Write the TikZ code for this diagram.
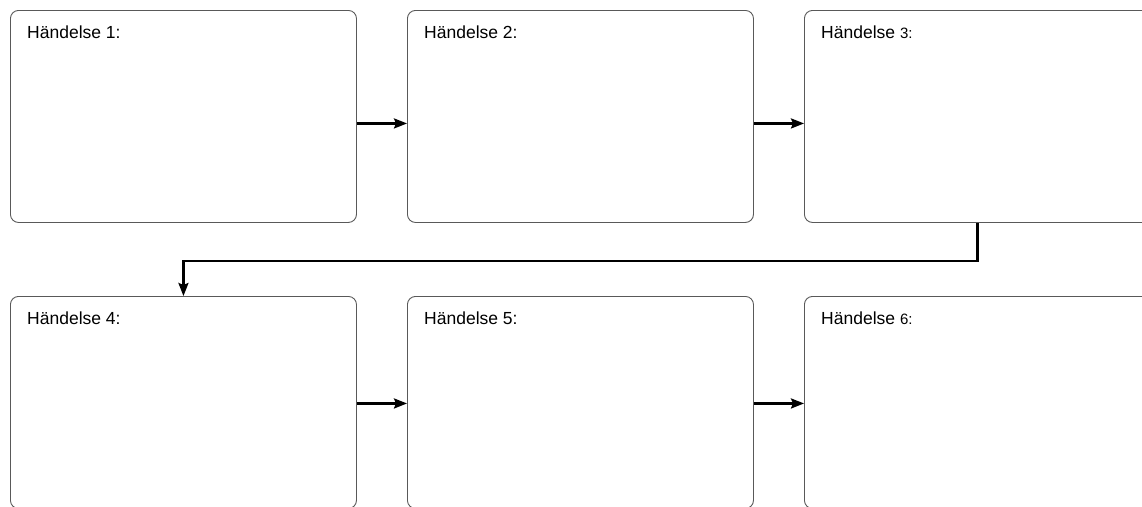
\documentclass[tikz,border=0pt]{standalone}
\usepackage{fontspec}
\setmainfont{Liberation Sans}
\usetikzlibrary{arrows.meta}
\begin{document}
\begin{tikzpicture}[x=1pt,y=-1pt,
  eventbox/.style={draw=black!65, line width=0.9pt, rounded corners=8pt,
    minimum width=346pt, minimum height=212pt, inner sep=0pt, anchor=north west},
  lbl/.style={anchor=base west, inner sep=0pt, font=\fontsize{17.5}{20}\selectfont},
  arr/.style={draw=black, line width=2.4pt, -{Stealth[length=13pt,width=10pt,inset=2pt]}}
]
\useasboundingbox (0,0) rectangle (1142,506);
\clip (0,0) rectangle (1142,506);
\node[eventbox] (b1) at (10,10) {};
\node[eventbox] (b2) at (407,10) {};
\node[eventbox] (b3) at (804,10) {};
\node[eventbox] (b4) at (10,296) {};
\node[eventbox] (b5) at (407,296) {};
\node[eventbox] (b6) at (804,296) {};
\node[lbl] (t1) at (27,38) {Händelse 1:};
\node[lbl] (t2) at (424,38) {Händelse 2:};
\node[lbl] (t3) at (821,38) {Händelse {\fontsize{15}{18}\selectfont 3:}};
\node[lbl] (t4) at (27,324) {Händelse 4:};
\node[lbl] (t5) at (424,324) {Händelse 5:};
\node[lbl] (t6) at (821,324) {Händelse {\fontsize{15}{18}\selectfont 6:}};
\draw[arr] ([yshift=-7pt]b1.east) -- ([yshift=-7pt]b2.west);
\draw[arr] ([yshift=-7pt]b2.east) -- ([yshift=-7pt]b3.west);
\draw[arr] ([yshift=-1pt]b4.east) -- ([yshift=-1pt]b5.west);
\draw[arr] ([yshift=-1pt]b5.east) -- ([yshift=-1pt]b6.west);
\draw[arr, rounded corners=0pt] (b3.south) -- ++(0,38) -| (b4.north);
\end{tikzpicture}
\end{document}
